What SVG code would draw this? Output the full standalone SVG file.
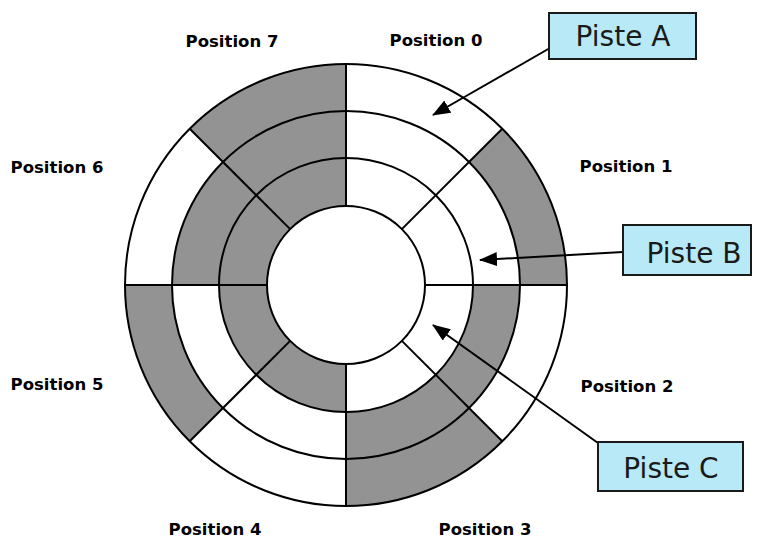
<svg xmlns="http://www.w3.org/2000/svg" width="760" height="540" viewBox="0 0 760 540">
<defs>
<style>
.g{fill:#939393;stroke:none}
.w{fill:#ffffff;stroke:none}
.ring{fill:none;stroke:#000;stroke-width:2}
.rad{stroke:#000;stroke-width:2}
.pos{font-family:"DejaVu Sans",Verdana,sans-serif;font-weight:bold;font-size:16.5px;fill:#000;text-anchor:middle}
.box{fill:#b8e9f6;stroke:#1a1a1a;stroke-width:2}
.lbl{font-family:"DejaVu Sans",Verdana,sans-serif;font-size:28px;fill:#1a1a1a;text-anchor:middle}
.arr{stroke:#000;stroke-width:2;fill:none;marker-end:url(#ah)}
</style>
<marker id="ah" markerUnits="userSpaceOnUse" markerWidth="18" markerHeight="14" refX="17" refY="7" orient="auto">
<path d="M0,0 L18,7 L0,14 Z" fill="#000"/>
</marker>
</defs>
<rect width="760" height="540" fill="#ffffff"/>
<g id="disk">
<circle cx="346" cy="285" r="221" class="w"/>
<path class="g" d="M346,285 L502.27,128.73 A221,221 0 0 1 567,285 Z"/>
<path class="g" d="M346,285 L502.27,441.27 A221,221 0 0 1 346,506 Z"/>
<path class="g" d="M346,285 L189.73,441.27 A221,221 0 0 1 125,285 Z"/>
<path class="g" d="M346,285 L189.73,128.73 A221,221 0 0 1 346,64 Z"/>
<circle cx="346" cy="285" r="174" class="w"/>
<path class="g" d="M346,285 L520,285 A174,174 0 0 1 346,459 Z"/>
<path class="g" d="M346,285 L172,285 A174,174 0 0 1 346,111 Z"/>
<circle cx="346" cy="285" r="127" class="w"/>
<path class="g" d="M346,412 A127,127 0 0 1 346,158 Z"/>
<circle cx="346" cy="285" r="79" class="w"/>
<circle cx="346" cy="285" r="221" class="ring"/>
<circle cx="346" cy="285" r="174" class="ring"/>
<circle cx="346" cy="285" r="127" class="ring"/>
<circle cx="346" cy="285" r="79" class="ring"/>
<line class="rad" x1="346" y1="206" x2="346" y2="64"/>
<line class="rad" x1="401.86" y1="229.14" x2="502.27" y2="128.73"/>
<line class="rad" x1="425" y1="285" x2="567" y2="285"/>
<line class="rad" x1="401.86" y1="340.86" x2="502.27" y2="441.27"/>
<line class="rad" x1="346" y1="364" x2="346" y2="506"/>
<line class="rad" x1="290.14" y1="340.86" x2="189.73" y2="441.27"/>
<line class="rad" x1="267" y1="285" x2="125" y2="285"/>
<line class="rad" x1="290.14" y1="229.14" x2="189.73" y2="128.73"/>
</g>
<g id="positions">
<text class="pos" x="436" y="46">Position 0</text>
<text class="pos" x="626" y="172">Position 1</text>
<text class="pos" x="627" y="392">Position 2</text>
<text class="pos" x="485" y="535">Position 3</text>
<text class="pos" x="215" y="535">Position 4</text>
<text class="pos" x="57" y="390">Position 5</text>
<text class="pos" x="57" y="173">Position 6</text>
<text class="pos" x="232" y="47">Position 7</text>
</g>
<g id="connectors">
<line class="arr" x1="550" y1="48" x2="433" y2="115"/>
<line class="arr" x1="623" y1="252" x2="480" y2="260"/>
<line class="arr" x1="598" y1="443" x2="433" y2="325"/>
</g>
<g id="piste-a">
<rect class="box" x="549" y="13" width="147" height="46"/>
<text class="lbl" x="623" y="46">Piste A</text>
</g>
<g id="piste-b">
<rect class="box" x="623" y="225" width="128" height="50"/>
<text class="lbl" x="694" y="263">Piste B</text>
</g>
<g id="piste-c">
<rect class="box" x="598" y="442" width="145" height="49"/>
<text class="lbl" x="671" y="478">Piste C</text>
</g>
</svg>
